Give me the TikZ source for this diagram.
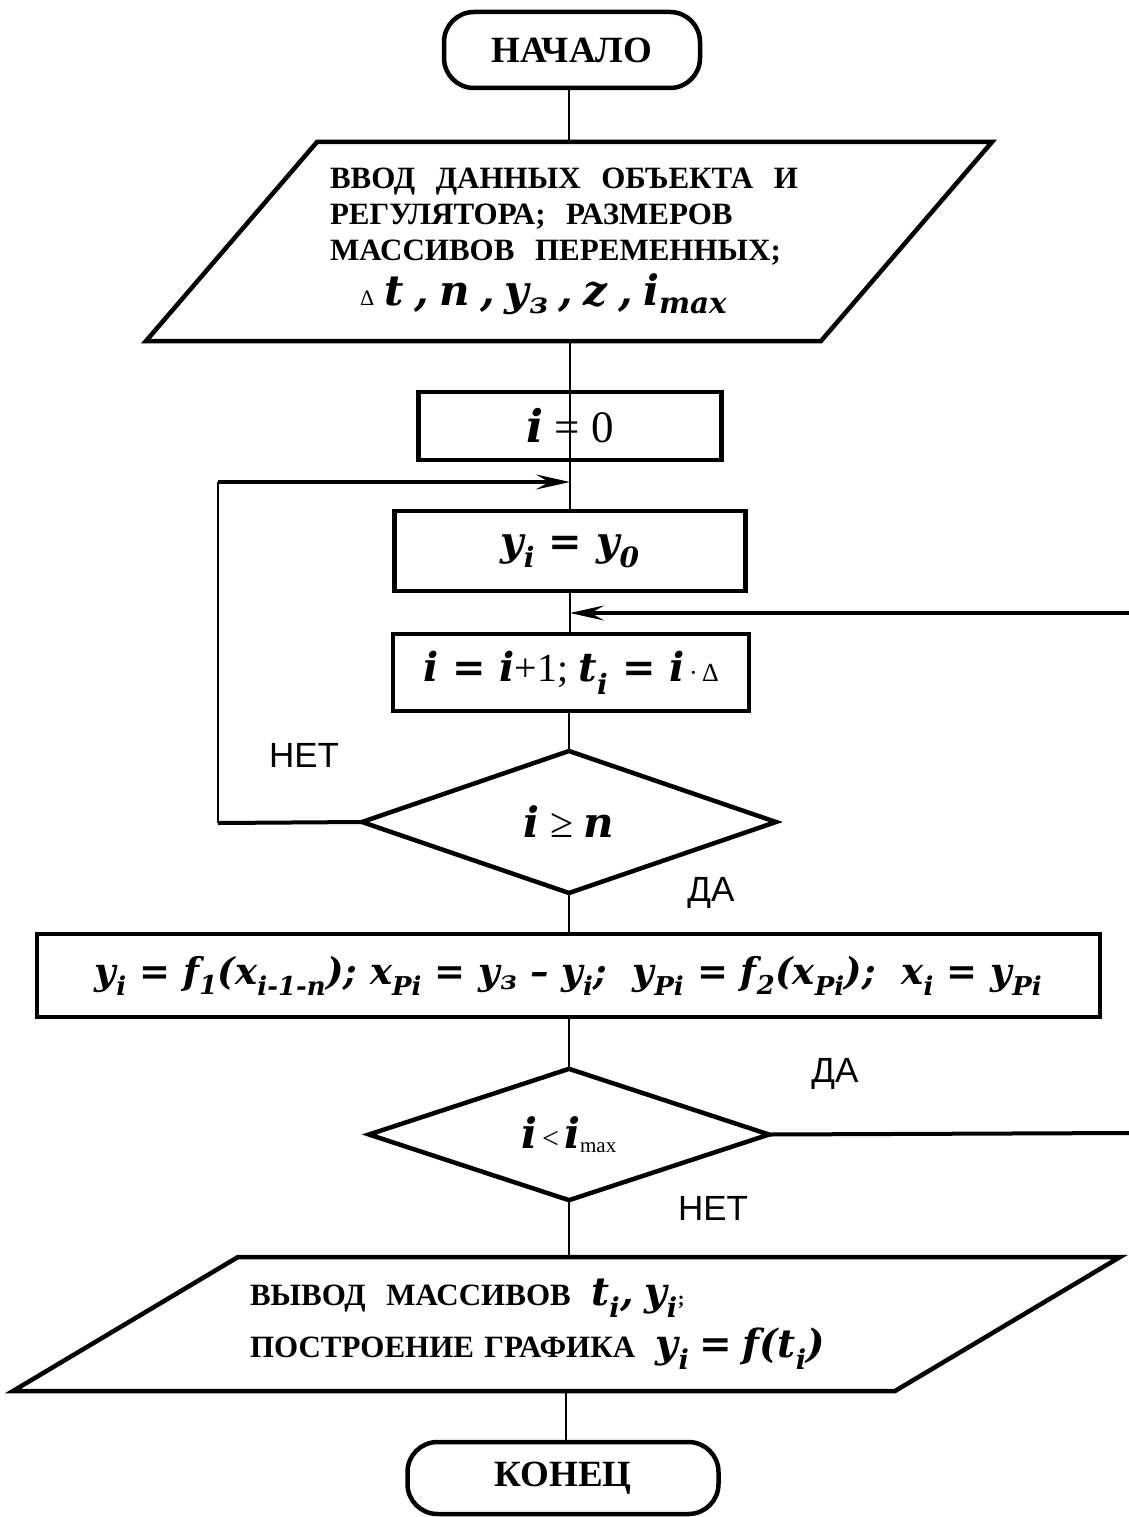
\documentclass[tikz,border=0pt]{standalone}
\usepackage{fontspec}
\setmainfont{Liberation Serif}
\newfontfamily\mvf{DejaVu Serif}
\newfontfamily\labf{Liberation Sans}
\usetikzlibrary{shapes.geometric,arrows.meta}
\newcommand\V[1]{{\mvf\bfseries\itshape #1}}
\newcommand\Lo[1]{\textsubscript{#1}}
\newcommand\fs[2]{\fontsize{#1}{#2}\selectfont}
\begin{document}
\begin{tikzpicture}[x=1pt,y=-1pt,
  box/.style={draw, line width=4.5pt, inner sep=0pt, outer sep=0pt},
  term/.style={box, rounded corners=30pt, font=\fs{37}{42}\bfseries},
  plain/.style={inner sep=0pt, outer sep=0pt},
  dia/.style={box, diamond, aspect=1},
  conn/.style={line width=1.8pt},
  hconn/.style={line width=4pt},
  arr/.style={-{Stealth[length=34pt,width=15pt,inset=13pt]}},
  lab/.style={font=\labf\fs{35}{40}}
]
\useasboundingbox (0,0) rectangle (1129,1517);

% terminals
\node[term, minimum width=256pt, minimum height=76pt] (start) at (572,50) {НАЧАЛО};
\node[term, minimum width=311pt, minimum height=72pt] (end) at (563,1478) {КОНЕЦ};

% input parallelogram
\node[plain, text width=846pt, minimum height=199pt, align=left,
      font=\fs{31}{36}\bfseries] (in1) at (569,241.5)
 {\hspace*{184pt}ВВОД\ \ ДАННЫХ\ \ ОБЪЕКТА\ \ И\\
  \hspace*{184pt}РЕГУЛЯТОРА;\ \ РАЗМЕРОВ\\
  \hspace*{184pt}МАССИВОВ\ \ ПЕРЕМЕННЫХ;\\[8pt]
  \hspace*{214pt}{\fs{22}{24}\mdseries Δ}\ \V{\fs{42}{48}t , n , y\Lo{з} , z , i\Lo{max}}};
\draw[line width=4.5pt] ([xshift=171pt]in1.north west) -- (in1.north east)
  -- ([xshift=-171pt]in1.south east) -- (in1.south west) -- cycle;

% process boxes
\node[box, minimum width=303pt, minimum height=68pt, font=\fs{45}{50}] (i0) at (570,426)
 {\V{i} = 0};
\node[box, minimum width=351pt, minimum height=80pt, font=\fs{40}{46}] (y0) at (570,551)
 {\V{y\Lo{i} = y\Lo{0}}};
\node[box, minimum width=356pt, minimum height=77pt, font=\fs{40}{46}] (inc) at (571,672.5)
 {\V{i = i}+1;\ \V{t\Lo{i} = i}{\fs{26}{30}\,·\,Δ}};

% decision 1
\node[dia, minimum width=414pt, minimum height=142pt, font=\fs{42}{46}] (d1) at (569,822)
 {\V{i} ≥ \V{n}};

% big box
\node[box, minimum width=1063pt, minimum height=83pt, font=\fs{37}{42}] (big) at (568.5,975.5)
 {\V{y\Lo{i} = f\Lo{1}(x\Lo{i-1-n}); x\Lo{Pi} = y\Lo{з} – y\Lo{i};\ \ y\Lo{Pi} = f\Lo{2}(x\Lo{Pi});\ \ x\Lo{i} = y\Lo{Pi}}};

% decision 2
\node[dia, minimum width=400pt, minimum height=131pt, font=\fs{42}{46}] (d2) at (569,1134.5)
 {\V{i}{\fs{30}{34}\,<\,}\V{i}{\fs{30}{34}\textsubscript{max}}};

% output parallelogram
\node[plain, text width=1107pt, minimum height=134pt, align=left,
      font=\fs{31}{52}\bfseries] (out) at (566.5,1324)
 {\hspace*{237pt}ВЫВОД\ \ МАССИВОВ\ \ \V{\fs{39}{52}t\Lo{i}, y\Lo{i}}{\fs{20}{24};}\\
  \hspace*{237pt}ПОСТРОЕНИЕ ГРАФИКА\ \ \V{\fs{39}{52}y\Lo{i} = f(t\Lo{i})}};
\draw[line width=4.5pt] ([xshift=225pt]out.north west) -- (out.north east)
  -- ([xshift=-225pt]out.south east) -- (out.south west) -- cycle;

% labels
\node[lab] (no1) at (304,755) {НЕТ};
\node[lab] (yes1) at (711,893) {ДА};
\node[lab] (yes2) at (835,1074) {ДА};
\node[lab] (no2) at (713,1208) {НЕТ};

% junctions
\coordinate (j1) at (570,482);
\coordinate (j2) at (570,613);
\coordinate (c1) at (218,823);
\coordinate (c2) at (218,482);
\coordinate (r1) at (1129,613);
\coordinate (r2) at (1129,1133);

% main flow
\draw[conn] (start.south -| in1.north) -- (in1.north);
\draw[conn] (in1.south) -- (in1.south -| i0.south) -- (i0.south);
\draw[conn] (i0.south) -- (y0.north -| i0.south);
\draw[conn] (y0.south) -- (inc.north -| y0.south);
\draw[conn] (inc.south -| d1.north) -- (d1.north);
\draw[conn] (d1.south) -- (big.north -| d1.south);
\draw[conn] (big.south -| d2.north) -- (d2.north);
\draw[conn] (d2.south) -- (out.north -| d2.south);
\draw[conn] (out.south -| 566,0) -- (end.north -| 566,0);

% loops
\draw[hconn] (d1.west) -- (c1);
\draw[conn] (c1) -- (c2);
\draw[hconn, arr] (c2) -- (j1);
\draw[hconn, arr] (r1) -- (j2);
\draw[hconn] (d2.east) -- (r2);
\end{tikzpicture}
\end{document}
